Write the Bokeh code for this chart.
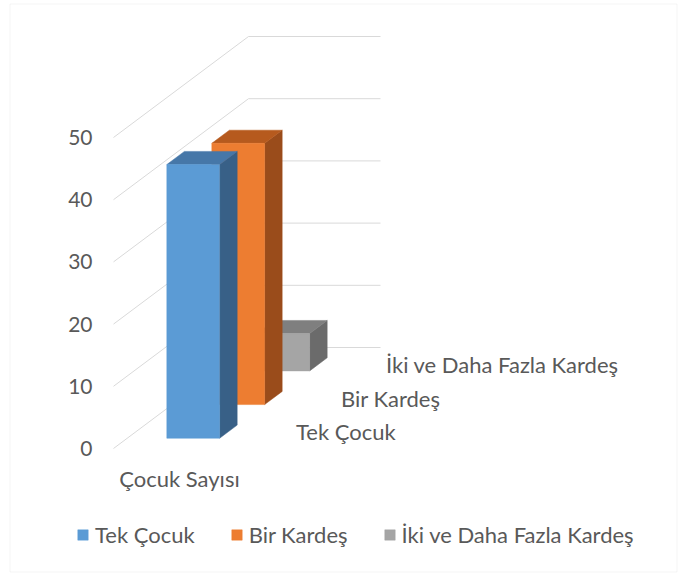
from bokeh.plotting import figure
from bokeh.models import Range1d, Legend, LegendItem, BoxAnnotation
from bokeh.core.properties import value
from bokeh.embed import file_html
from bokeh.resources import INLINE

# ---- data ----
category = "Çocuk Sayısı"
series = ["Tek Çocuk", "Bir Kardeş", "İki ve Daha Fazla Kardeş"]
values = [44, 42, 6]
y_ticks = [0, 10, 20, 30, 40, 50]
y_tick_labels = ["0", "10", "20", "30", "40", "50"]

front_colors = ["#5B9BD5", "#ED7D31", "#A5A5A5"]
top_colors = ["#4677A8", "#B65A1E", "#7F7F7F"]
side_colors = ["#386087", "#9A4C1B", "#6B6B6B"]

FONT = "Lato"
TXT = "#595959"
GRID = "#D9D9D9"

# ---- oblique projection constants (layout) ----
PX_X = 132.0       # px per category width
PX_V = 6.22        # px per value unit
ORIGIN_X, ORIGIN_Y = 113, 448   # canvas px of front-left floor corner
KX = 135 / PX_X    # x shift per unit of depth
KV = 101 / PX_V    # vertical shift per unit of depth
X0, X1 = 0.30, 0.70
BAR_DEPTH = 0.13
n = len(series)


def P(x, v, z):
    return x + KX * z, v + KV * z


W, H = 679, 574
p = figure(width=W, height=H, output_backend="svg", toolbar_location=None,
           x_axis_location=None, y_axis_location=None,
           min_border_left=0, min_border_right=0, min_border_top=0, min_border_bottom=0,
           x_range=Range1d(-ORIGIN_X / PX_X, (W - ORIGIN_X) / PX_X),
           y_range=Range1d(-(H - ORIGIN_Y) / PX_V, ORIGIN_Y / PX_V))
p.xgrid.visible = False
p.ygrid.visible = False
p.outline_line_color = None
p.background_fill_color = "white"
p.border_fill_color = "white"

# gridlines: left wall diagonal + back wall horizontal
gxs, gys = [], []
for t in y_ticks:
    a = P(0, t, 0)
    b = P(0, t, 1)
    c = P(1, t, 1)
    gxs.append([a[0], b[0], c[0]])
    gys.append([a[1], b[1], c[1]])
p.multi_line(gxs, gys, line_color=GRID, line_width=1)

# value axis labels
p.text([P(0, t, 0)[0] for t in y_ticks], [P(0, t, 0)[1] for t in y_ticks], text=y_tick_labels,
       x_offset=-21, text_align="right", text_baseline="middle",
       text_font=value(FONT), text_font_size="21px", text_color=TXT)

# bars, back to front
front_renderers = {}
for i in reversed(range(n)):
    v = values[i]
    zc = (i + 0.5) / n
    z0, z1 = zc - BAR_DEPTH / 2, zc + BAR_DEPTH / 2
    side = [P(X1, 0, z0), P(X1, 0, z1), P(X1, v, z1), P(X1, v, z0)]
    top = [P(X0, v, z0), P(X1, v, z0), P(X1, v, z1), P(X0, v, z1)]
    front = [P(X0, 0, z0), P(X1, 0, z0), P(X1, v, z0), P(X0, v, z0)]
    for poly, col in ((side, side_colors[i]), (top, top_colors[i])):
        p.patch([q[0] for q in poly], [q[1] for q in poly], fill_color=col,
                line_color=col, line_width=0.5)
    r = p.patch([q[0] for q in front], [q[1] for q in front], fill_color=front_colors[i],
                line_color=front_colors[i], line_width=0.5)
    front_renderers[i] = r

# series (depth) labels along right floor edge
lx, ly = [], []
for i in range(n):
    q = P(1, 0, (i + 0.5) / n)
    lx.append(q[0])
    ly.append(q[1])
p.text(lx, ly, text=series, x_offset=28, text_baseline="middle", text_align="left",
       text_font=value(FONT), text_font_size="22px", text_color=TXT)

# category label
c = P(0.5, 0, 0)
p.text([c[0]], [c[1]], text=[category], y_offset=30, text_baseline="middle",
       text_align="center", text_font=value(FONT), text_font_size="22px", text_color=TXT)

# legend
legend = Legend(items=[LegendItem(label=series[i], renderers=[front_renderers[i]]) for i in range(n)],
                orientation="horizontal", location=(76, 26), glyph_width=13, glyph_height=13,
                label_standoff=6, spacing=35, padding=0, margin=0,
                border_line_color=None, background_fill_alpha=0,
                label_text_font=FONT, label_text_font_size="22px", label_text_color=TXT)
p.add_layout(legend, "center")

# chart border
p.add_layout(BoxAnnotation(left=9.5, right=676.5, top=3.5, bottom=571.5,
                           left_units="canvas", right_units="canvas",
                           top_units="canvas", bottom_units="canvas",
                           fill_alpha=0, line_color=GRID, line_width=1))

open("out.html", "w").write(file_html(p, INLINE))
